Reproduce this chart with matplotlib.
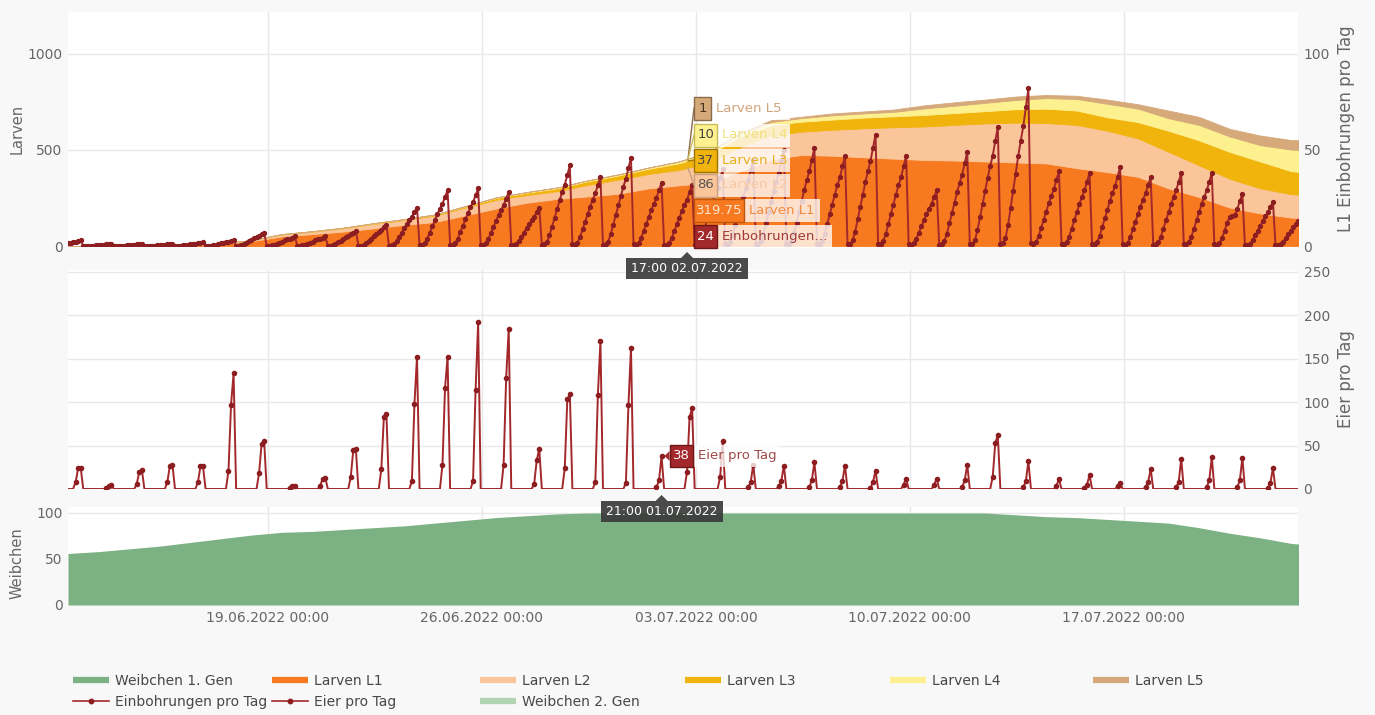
import numpy as np
import matplotlib
matplotlib.use("Agg")
import matplotlib.pyplot as plt
import matplotlib.dates as mdates
from matplotlib.lines import Line2D
from matplotlib.patches import Rectangle, Polygon

plt.rcParams["font.family"] = ["DejaVu Sans"]

# ---------- daily values (11:00 each day, 12.06.2022 .. 23.07.2022) ----------
day_start = np.datetime64("2022-06-12T11:00")
days = day_start + np.arange(42) * np.timedelta64(1, "D")

larven_l1 = [0, 1, 2, 3, 5, 10, 25, 50, 62, 75, 92, 110, 125, 160, 195, 225, 245, 258, 272, 300,
             316, 330, 390, 450, 474, 470, 462, 455, 448, 445, 440, 435, 430, 405, 385, 360, 300,
             255, 200, 170, 148, 140]
larven_l2 = [0, 0, 0, 1, 1, 2, 5, 10, 13, 17, 23, 25, 33, 40, 45, 40, 40, 60, 73, 75,
             80, 105, 125, 125, 121, 135, 150, 163, 174, 185, 198, 207, 210, 225, 215, 200, 190,
             165, 150, 130, 122, 120]
larven_l3 = [0, 0, 0, 0, 0, 0, 1, 2, 2, 3, 3, 4, 5, 6, 10, 12, 15, 19, 22, 27,
             35, 43, 55, 55, 52, 53, 56, 57, 60, 62, 64, 70, 75, 75, 70, 85, 110,
             130, 140, 140, 120, 115]
larven_l4 = [0, 0, 0, 0, 0, 0, 0, 0, 0, 0, 1, 1, 1, 2, 2, 3, 4, 4, 5, 6,
             9, 13, 15, 15, 19, 22, 22, 23, 34, 38, 43, 48, 55, 60, 70, 70, 65,
             80, 80, 85, 112, 120]
larven_l5 = [0, 0, 0, 0, 0, 0, 0, 0, 0, 0, 0, 0, 0, 0, 1, 1, 1, 1, 1, 1,
             1, 1, 5, 10, 7, 10, 10, 12, 16, 18, 17, 18, 16, 17, 22, 23, 40,
             42, 40, 50, 50, 50]
weibchen_1 = [56, 58, 61, 64, 68, 72, 76, 79, 80, 82, 84, 86, 89, 92, 95, 97, 99, 100, 100, 100,
              100, 100, 100, 100, 100, 100, 100, 100, 100, 100, 100, 98, 96, 95, 93, 91, 89,
              84, 78, 73, 67, 64]

# ---------- 2-hourly values: one row per day, 01:00, 03:00 ... 23:00 ----------
einbohrungen_rows = [
    [0, 0.2, 0.4, 0.7, 1.1, 1.4, 1.7, 2, 2.3, 2.6, 3, 0.1],
    [0, 0.1, 0.1, 0.2, 0.4, 0.5, 0.6, 0.7, 0.8, 0.9, 1, 0],
    [0, 0.1, 0.1, 0.2, 0.4, 0.5, 0.6, 0.7, 0.8, 0.9, 1, 0],
    [0, 0.1, 0.1, 0.2, 0.4, 0.5, 0.6, 0.7, 0.8, 0.9, 1, 0],
    [0, 0.1, 0.3, 0.5, 0.7, 0.9, 1.1, 1.3, 1.5, 1.8, 2, 0],
    [0.1, 0.2, 0.4, 0.7, 1.1, 1.4, 1.7, 2, 2.3, 2.6, 3, 0.1],
    [0.1, 0.4, 0.9, 1.7, 2.5, 3.2, 4, 4.7, 5.3, 6.2, 7, 0.1],
    [0.1, 0.3, 0.7, 1.2, 1.8, 2.3, 2.9, 3.4, 3.8, 4.4, 5, 0.1],
    [0.1, 0.3, 0.7, 1.2, 1.8, 2.3, 2.9, 3.4, 3.8, 4.4, 5, 0.1],
    [0.2, 0.4, 1, 1.9, 2.8, 3.7, 4.6, 5.4, 6.1, 7, 8, 0.2],
    [0.2, 0.6, 1.4, 2.6, 3.9, 5.1, 6.3, 7.4, 8.4, 9.7, 11, 0.2],
    [0.4, 1, 2.6, 4.8, 7, 9.2, 11.4, 13.4, 15.2, 17.6, 20, 0.4],
    [0.6, 1.5, 3.8, 7, 10.2, 13.3, 16.5, 19.4, 22, 25.5, 29, 0.6],
    [0.6, 1.5, 3.9, 7.2, 10.5, 13.8, 17.1, 20.1, 22.8, 26.4, 30, 0.6],
    [0.6, 1.4, 3.6, 6.7, 9.8, 12.9, 16, 18.8, 21.3, 24.6, 28, 0.6],
    [0.4, 1, 2.6, 4.8, 7, 9.2, 11.4, 13.4, 15.2, 17.6, 20, 0.4],
    [0.8, 2.1, 5.5, 10.1, 14.7, 19.3, 23.9, 28.1, 31.9, 37, 42, 0.8],
    [0.7, 1.8, 4.7, 8.6, 12.6, 16.6, 20.5, 24.1, 27.4, 31.7, 36, 0.7],
    [0.9, 2.3, 6, 11, 16.1, 21.2, 26.2, 30.8, 35, 40.5, 46, 0.9],
    [0.7, 1.7, 4.3, 7.9, 11.6, 15.2, 18.8, 22.1, 25.1, 29, 33, 0.7],
    [0.6, 1.6, 4.2, 7.7, 11.2, 14.7, 18.2, 21.4, 24, 28.2, 32, 0.6],
    [0.8, 2, 5.2, 9.6, 14, 18.4, 22.8, 26.8, 30.4, 35.2, 40, 0.8],
    [0.9, 2.3, 5.9, 10.8, 15.8, 20.7, 25.7, 30.2, 34.2, 39.6, 45, 0.9],
    [1, 2.5, 6.5, 12, 17.5, 23, 28.5, 33.5, 38, 44, 50, 1],
    [1, 2.6, 6.6, 12.2, 17.9, 23.5, 29.1, 34.2, 38.8, 44.9, 51, 1],
    [0.9, 2.4, 6.1, 11.3, 16.5, 21.6, 26.8, 31.5, 35.7, 41.4, 47, 0.9],
    [1.2, 2.9, 7.5, 13.9, 20.3, 26.7, 33.1, 38.9, 44.1, 51, 58, 1.2],
    [0.9, 2.4, 6.1, 11.3, 16.5, 21.6, 26.8, 31.5, 35.7, 41.4, 47, 0.9],
    [0.6, 1.5, 3.8, 7, 10.2, 13.3, 16.5, 19.4, 22, 25.5, 29, 0.6],
    [1, 2.5, 6.4, 11.8, 17.2, 22.5, 27.9, 32.8, 37.2, 43.1, 49, 1],
    [1.2, 3.1, 8.1, 14.9, 21.7, 28.5, 35.3, 41.5, 47.1, 54.6, 62, 1.2],
    [1.6, 4.1, 10.7, 19.7, 28.7, 37.7, 46.7, 54.9, 62.3, 72.2, 82, 1.6],
    [0.8, 2, 5.1, 9.4, 13.7, 17.9, 22.2, 26.1, 29.6, 34.3, 39, 0.8],
    [0.8, 1.9, 4.9, 9.1, 13.3, 17.5, 21.7, 25.5, 28.9, 33.4, 38, 0.8],
    [0.8, 2.1, 5.3, 9.8, 14.4, 18.9, 23.4, 27.5, 31.2, 36.1, 41, 0.8],
    [0.7, 1.8, 4.7, 8.6, 12.6, 16.6, 20.5, 24.1, 27.4, 31.7, 36, 0.7],
    [0.8, 1.9, 4.9, 9.1, 13.3, 17.5, 21.7, 25.5, 28.9, 33.4, 38, 0.8],
    [0.8, 1.9, 4.9, 9.1, 13.3, 17.5, 21.7, 25.5, 28.9, 33.4, 38, 0.8],
    [0.5, 1.4, 4, 8, 12, 15, 15.5, 16, 19, 23.5, 27, 0.5],
    [0.5, 1.2, 3, 5.5, 8, 10.6, 13.1, 15.4, 17.5, 20.2, 23, 0.5],
    [0.3, 0.9, 2.2, 4.1, 6, 7.8, 9.7, 11.4, 12.9, 15, 17, 0.3],
]
# Eier pro Tag: values at 17:00, 19:00, 21:00 of each day (zero otherwise)
eier_spikes = [
    [8, 24, 24], [1, 4, 5], [6, 20, 22], [8, 27, 28], [8, 26, 26], [21, 97, 133],
    [18, 52, 55], [1, 4, 4], [4, 12, 13], [14, 45, 46], [23, 83, 86], [9, 98, 152],
    [28, 116, 152], [9, 114, 192], [28, 128, 184], [6, 33, 46], [24, 103, 109],
    [8, 108, 170], [7, 97, 162], [2, 10, 38], [20, 83, 93], [0, 14, 55], [2, 8, 28],
    [3, 9, 27], [2, 10, 31], [2, 9, 27], [1, 8, 21], [0, 5, 12], [0, 5, 12], [2, 10, 28],
    [14, 53, 62], [2, 9, 32], [0, 4, 11], [1, 5, 16], [0, 3, 7], [2, 8, 23], [2, 8, 35],
    [2, 10, 37], [2, 10, 36], [1, 7, 24], [0, 0, 0],
]

slot_start = np.datetime64("2022-06-12T01:00")
slots = slot_start + np.arange(len(einbohrungen_rows) * 12) * np.timedelta64(2, "h")
einbohrungen = np.array(einbohrungen_rows, dtype=float).ravel()
eier = np.zeros((len(eier_spikes), 12))
eier[:, 8:11] = eier_spikes
eier = eier.ravel()

tick_dates = np.array(["2022-06-19", "2022-06-26", "2022-07-03", "2022-07-10", "2022-07-17"],
                      dtype="datetime64[m]")
x_range = (np.datetime64("2022-06-12T11:00"), np.datetime64("2022-07-22T16:40"))

# tooltip contents
tip_top_time = np.datetime64("2022-07-02T17:00")
tip_top_rows = [("1", "Larven L5"), ("10", "Larven L4"), ("37", "Larven L3"),
                ("86", "Larven L2"), ("319.75", "Larven L1"), ("24", "Einbohrungen…")]
tip_mid_time = np.datetime64("2022-07-01T21:00")
tip_mid_value = 38

# ---------- styling ----------
C_L1, C_L2, C_L3, C_L4, C_L5 = "#f77a20", "#fbc59a", "#f1b40d", "#fdf08f", "#d6a97b"
C_W1, C_W2 = "#7cb283", "#b2d4b2"
C_RED = "#a3282b"
C_TXT = "#666666"
W_PX, H_PX = 1375, 715
LEFT, RIGHT = 68, 1298

fig = plt.figure(figsize=(W_PX / 100, H_PX / 100), dpi=100, facecolor="#f8f8f8")


def fx(x):
    return x / W_PX


def fy(y):
    return 1 - y / H_PX


def add_ax(top, bottom):
    return fig.add_axes([fx(LEFT), fy(bottom), (RIGHT - LEFT) / W_PX, (bottom - top) / H_PX])


ax1 = add_ax(12, 246)
ax2 = add_ax(270, 489)
ax3 = add_ax(507, 605)
ax1r = ax1.twinx()

for ax in (ax1, ax2, ax3, ax1r):
    ax.set_xlim(*x_range)
    for s in ax.spines.values():
        s.set_visible(False)
    ax.set_xticks(tick_dates)
    ax.tick_params(length=0, labelsize=10, labelcolor=C_TXT, pad=4)
for ax in (ax1, ax2, ax3):
    ax.set_facecolor("white")
    ax.grid(True, color="#e8e8e8", lw=1)
    ax.set_axisbelow(True)
ax1.tick_params(labelbottom=False)
ax1r.tick_params(labelbottom=False)
ax2.tick_params(labelbottom=False)
ax3.xaxis.set_major_formatter(mdates.DateFormatter("%d.%m.%Y %H:%M"))

# top panel: stacked larvae + Einbohrungen
ax1.stackplot(days, larven_l1, larven_l2, larven_l3, larven_l4, larven_l5,
              colors=[C_L1, C_L2, C_L3, C_L4, C_L5], lw=0.6, edgecolor="face")
ax1.set_ylim(0, 1218)
ax1.set_yticks([0, 500, 1000])
ax1r.set_ylim(0, 121.8)
ax1r.set_yticks([0, 50, 100])
ax1r.plot(slots, einbohrungen, color=C_RED, lw=1.4, marker="o", ms=2.8,
          mfc="#8c1d20", mec="#8c1d20")
ax1.set_ylabel("Larven", fontsize=10.5, color=C_TXT)
ax1.yaxis.set_label_coords((25 - LEFT) / (RIGHT - LEFT), 0.5)
ax1r.set_ylabel("L1 Einbohrungen pro Tag", fontsize=12, color=C_TXT)
ax1r.yaxis.set_label_coords((1337 - LEFT) / (RIGHT - LEFT), 0.5)

# middle panel: Eier pro Tag
ax2.plot(slots, eier, color=C_RED, lw=1.4, marker="o", ms=3,
         mfc="#8c1d20", mec="#8c1d20", markevery=eier > 0)
ax2.set_ylim(0, 252)
ax2.yaxis.tick_right()
ax2.set_yticks([0, 50, 100, 150, 200, 250])
ax2.yaxis.set_label_position("right")
ax2.set_ylabel("Eier pro Tag", fontsize=12, color=C_TXT)
ax2.yaxis.set_label_coords((1337 - LEFT) / (RIGHT - LEFT), 0.5)

# bottom panel: Weibchen
ax3.fill_between(days, weibchen_1, color=C_W1, lw=0)
ax3.set_ylim(0, 106.5)
ax3.set_yticks([0, 50, 100])
ax3.set_ylabel("Weibchen", fontsize=10.5, color=C_TXT)
ax3.yaxis.set_label_coords((25 - LEFT) / (RIGHT - LEFT), 0.43)

# ---------- legend (six evenly spaced columns) ----------
def area_h(c):
    return Line2D([0], [0], color=c, lw=4.5, solid_capstyle="butt")


def line_h():
    return Line2D([0], [0], color=C_RED, lw=1.2, marker="o", ms=3.2, mfc="#8c1d20", mec="#8c1d20")


legend_cols = [
    (73, [area_h(C_W1), line_h()], ["Weibchen 1. Gen", "Einbohrungen pro Tag"]),
    (272, [area_h(C_L1), line_h()], ["Larven L1", "Eier pro Tag"]),
    (480, [area_h(C_L2), area_h(C_W2)], ["Larven L2", "Weibchen 2. Gen"]),
    (685, [area_h(C_L3)], ["Larven L3"]),
    (890, [area_h(C_L4)], ["Larven L4"]),
    (1093, [area_h(C_L5)], ["Larven L5"]),
]
for x0, hs, labs in legend_cols:
    fig.legend(hs, labs, loc="upper left", bbox_to_anchor=(fx(x0), fy(674)), frameon=False,
               fontsize=10, borderpad=0, borderaxespad=0, handlelength=2.6,
               handletextpad=0.4, labelspacing=0.5, labelcolor="#484848")

# ---------- tooltips ----------
def rect(x0, y0, x1, y1, **kw):
    fig.patches.append(Rectangle((fx(x0), fy(y1)), (x1 - x0) / W_PX, (y1 - y0) / H_PX,
                                 transform=fig.transFigure, **kw))


def poly(pts, **kw):
    fig.patches.append(Polygon([(fx(x), fy(y)) for x, y in pts], closed=True,
                               transform=fig.transFigure, **kw))


def to_px(ax, t, v):
    dx, dy = ax.transData.transform((mdates.date2num(t), v))
    return dx, H_PX - dy


def date_tip(ax, t, text):
    xa, ya = to_px(ax, t, 0)
    yt = ya + 6
    poly([(xa - 6, yt + 6), (xa, yt), (xa + 6, yt + 6)], fc="#3b3b3b", ec="none", alpha=0.92)
    rect(xa - 61, yt + 6, xa + 61, yt + 27, fc="#3b3b3b", ec="none", alpha=0.92)
    fig.text(fx(xa), fy(yt + 16.5), text, color="white", fontsize=9, ha="center", va="center")


date_tip(ax1, tip_top_time, "17:00 02.07.2022")
date_tip(ax2, tip_mid_time, "21:00 01.07.2022")

# stacked larvae tooltip
xa, _ = to_px(ax1, tip_top_time, 0)
row_style = [
    # fill, border, value text, label text, y centre, value box width, label bg right
    (C_L5, "#8a6a48", "#4a3520", "#d2a47a", 108, 17, 790),
    (C_L4, "#c9bb55", "#444444", "#f1e07c", 135, 23, 790),
    (C_L3, "#9c7400", "#444444", "#e9b01e", 160, 23, 790),
    (C_L2, "#c8a07e", "#555555", "#f6c7a3", 185, 23, 790),
    (C_L1, "#c0560e", "#fde3cc", "#f28a3e", 210, 50, 820),
    (C_RED, "#6e1515", "white", "#a03c3c", 236, 23, 832),
]
stack_vals = np.cumsum([319.75, 86, 37, 10, 1])[::-1]
for i, ((val, lab), (fc, ec, vc, lc, yc, bw, bgr)) in enumerate(zip(tip_top_rows, row_style)):
    x0 = xa + 7
    if i < 4:
        _, yd = to_px(ax1, tip_top_time, stack_vals[i])
        fig.lines.append(Line2D([fx(xa + 1), fx(x0)], [fy(yd), fy(yc)], color=ec, lw=1,
                                transform=fig.transFigure))
    rect(x0 + bw, yc - 11.5, bgr, yc + 11.5, fc="white", ec="none", alpha=0.78)
    rect(x0, yc - 11.5, x0 + bw, yc + 11.5, fc=fc, ec=ec, lw=1)
    fig.text(fx(x0 + bw / 2), fy(yc), val, color=vc, fontsize=9.5, ha="center", va="center")
    fig.text(fx(x0 + bw + 5), fy(yc), lab, color=lc, fontsize=9.5, ha="left", va="center")

# Eier tooltip
xe, ye = to_px(ax2, tip_mid_time, tip_mid_value)
rect(xe + 31, ye - 11, xe + 118, ye + 11, fc="white", ec="none", alpha=0.78)
poly([(xe + 3, ye), (xe + 8, ye - 5), (xe + 8, ye + 5)], fc=C_RED, ec="none")
rect(xe + 8, ye - 11, xe + 31, ye + 11, fc=C_RED, ec="#6e1515", lw=1)
fig.text(fx(xe + 19.5), fy(ye), str(tip_mid_value), color="white", fontsize=9.5,
         ha="center", va="center")
fig.text(fx(xe + 36), fy(ye), "Eier pro Tag", color="#a04848", fontsize=9.5,
         ha="left", va="center")

fig.savefig("out.png", dpi=100, facecolor=fig.get_facecolor())
